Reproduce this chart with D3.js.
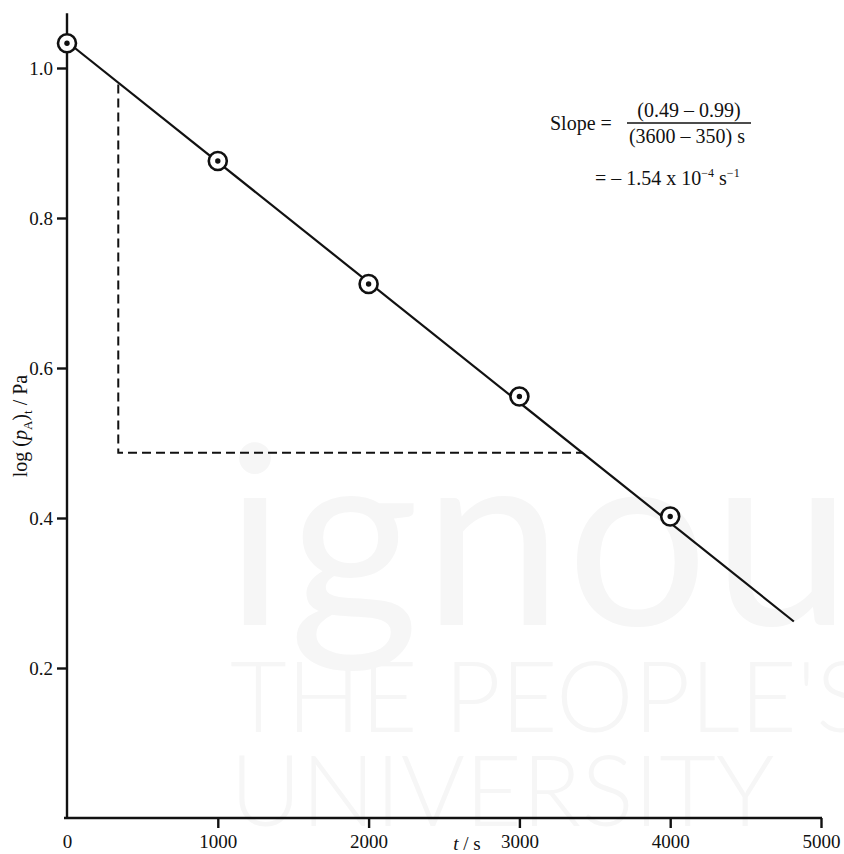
<!DOCTYPE html>
<html>
<head>
<meta charset="utf-8">
<script src="https://cdn.jsdelivr.net/npm/d3@7"></script>
<style>
    html, body { margin: 0; padding: 0; background: #fff; }
    svg { display: block; font-family: "Liberation Serif", "DejaVu Serif", serif; }
</style>
</head>
<body>
<div id="chart"></div>
<script>
// measured points (t in s, log p in Pa)
var times = [0, 1000, 2000, 3000, 4000];
var logP = [1.033, 0.876, 0.712, 0.562, 0.402];

// best straight line drawn through the points
var fitT = [0, 4820];
var fitY = [1.035, 0.262];

// triangle used to read the slope
var slopeT = [340, 340, 3420];
var slopeY = [0.978, 0.487, 0.487];

var xTicks = [0, 1000, 2000, 3000, 4000, 5000];
var yTicks = [0.2, 0.4, 0.6, 0.8, 1.0];

var width = 844,
    height = 854;

var svg = d3.select("#chart").append("svg")
    .attr("width", width)
    .attr("height", height);

var x = d3.scaleLinear().domain([0, 5000]).range([67, 821]);
var y = d3.scaleLinear().domain([0, 1]).range([818, 68]);

// very faint watermark behind the chart
var wm = svg.append("g")
    .attr("fill", "#f6f6f6")
    .attr("font-family", "Lato, 'Open Sans', sans-serif");
wm.append("text")
    .attr("x", 225).attr("y", 625)
    .attr("font-size", 250)
    .attr("letter-spacing", 4)
    .text("ignou");
wm.append("text")
    .attr("x", 230).attr("y", 732)
    .attr("font-size", 98)
    .attr("font-weight", 300)
    .text("THE PEOPLE'S");
wm.append("text")
    .attr("x", 230).attr("y", 826)
    .attr("font-size", 98)
    .attr("font-weight", 300)
    .text("UNIVERSITY");

// axes
var yAxis = d3.axisLeft(y)
    .tickValues(yTicks)
    .tickFormat(d3.format(".1f"))
    .tickSize(10)
    .tickPadding(4);

var gy = svg.append("g")
    .attr("transform", "translate(" + x(0) + ",0)")
    .call(yAxis);
gy.select(".domain").remove();
gy.append("line")
    .attr("x1", 0).attr("x2", 0)
    .attr("y1", y(0)).attr("y2", y(1.073))
    .attr("stroke", "#111")
    .attr("stroke-width", 2.4);

var xAxis = d3.axisBottom(x)
    .tickValues(xTicks)
    .tickFormat(d3.format("d"))
    .tickSize(10)
    .tickPadding(7);

var gx = svg.append("g")
    .attr("transform", "translate(0," + y(0) + ")")
    .call(xAxis);
gx.select(".domain").remove();
gx.append("line")
    .attr("x1", x(0) - 3).attr("x2", x(5000) + 1)
    .attr("y1", 0).attr("y2", 0)
    .attr("stroke", "#111")
    .attr("stroke-width", 2.4);
gx.selectAll(".tick").filter(function(d) { return d === 0; }).select("line").remove();

svg.selectAll(".tick line")
    .attr("stroke", "#111")
    .attr("stroke-width", 2.4);
svg.selectAll(".tick text")
    .attr("font-family", "'Liberation Serif', serif")
    .attr("font-size", 19)
    .attr("fill", "#111");

// axis titles
var ylab = svg.append("text")
    .attr("transform", "translate(27,426) rotate(-90)")
    .attr("text-anchor", "middle")
    .attr("font-size", 20)
    .attr("fill", "#111");
ylab.append("tspan").text("log (");
ylab.append("tspan").attr("font-style", "italic").text("p");
ylab.append("tspan").attr("font-size", 13).attr("dy", 5).text("A");
ylab.append("tspan").attr("dy", -5).text(")");
ylab.append("tspan").attr("font-size", 13).attr("dy", 5).text("t");
ylab.append("tspan").attr("dy", -5).text(" / Pa");

var xlab = svg.append("text")
    .attr("x", 467).attr("y", 850)
    .attr("text-anchor", "middle")
    .attr("font-size", 19)
    .attr("fill", "#111");
xlab.append("tspan").attr("font-style", "italic").text("t");
xlab.append("tspan").text(" / s");

// dashed slope triangle
var tri = d3.range(slopeT.length).map(function(i) { return [slopeT[i], slopeY[i]]; });
svg.append("path")
    .datum(tri)
    .attr("d", d3.line().x(function(d) { return x(d[0]); }).y(function(d) { return y(d[1]); }))
    .attr("fill", "none")
    .attr("stroke", "#111")
    .attr("stroke-width", 2)
    .attr("stroke-dasharray", "9,5");

// fitted line
var fit = d3.range(fitT.length).map(function(i) { return [fitT[i], fitY[i]]; });
svg.append("path")
    .datum(fit)
    .attr("d", d3.line().x(function(d) { return x(d[0]); }).y(function(d) { return y(d[1]); }))
    .attr("fill", "none")
    .attr("stroke", "#111")
    .attr("stroke-width", 2.2);

// circled-dot markers
var pts = svg.append("g").selectAll("g")
    .data(times.map(function(t, i) { return [t, logP[i]]; }))
    .enter().append("g")
    .attr("transform", function(d) { return "translate(" + x(d[0]) + "," + y(d[1]) + ")"; });
pts.append("circle")
    .attr("r", 9)
    .attr("fill", "#fff")
    .attr("stroke", "#111")
    .attr("stroke-width", 2.6);
pts.append("circle")
    .attr("r", 2.7)
    .attr("fill", "#111");

// slope annotation
var note = svg.append("g")
    .attr("font-size", 20)
    .attr("fill", "#111");
note.append("text")
    .attr("x", 550).attr("y", 130)
    .text("Slope =");
note.append("text")
    .attr("x", 689).attr("y", 117)
    .attr("text-anchor", "middle")
    .text("(0.49 \u2013 0.99)");
note.append("line")
    .attr("x1", 627).attr("x2", 751)
    .attr("y1", 123).attr("y2", 123)
    .attr("stroke", "#111")
    .attr("stroke-width", 1.6);
note.append("text")
    .attr("x", 687).attr("y", 143)
    .attr("text-anchor", "middle")
    .text("(3600 \u2013 350) s");

var res = note.append("text")
    .attr("x", 595).attr("y", 185);
res.append("tspan").text("= \u2013 1.54 x 10");
res.append("tspan").attr("font-size", 12).attr("dy", -8).text("\u22124");
res.append("tspan").attr("dy", 8).text(" s");
res.append("tspan").attr("font-size", 12).attr("dy", -8).text("\u22121");
</script>
</body>
</html>
